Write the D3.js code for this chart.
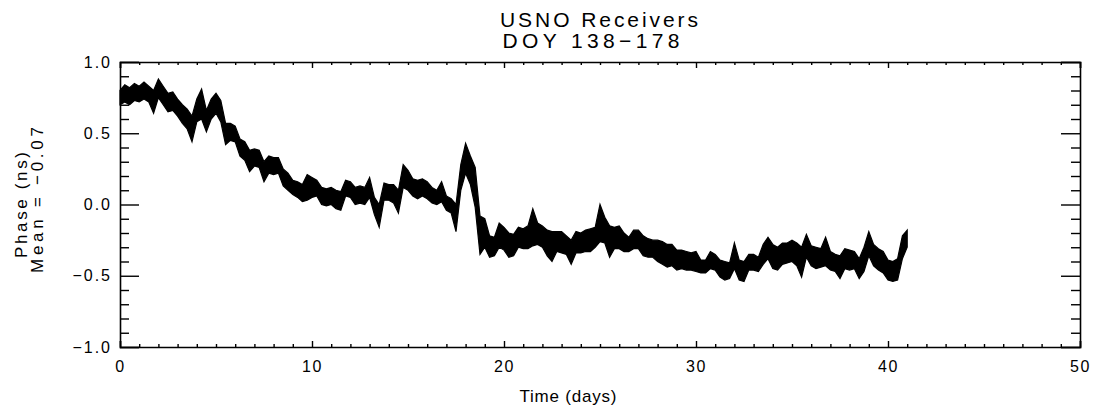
<!DOCTYPE html>
<html>
<head>
<meta charset="utf-8">
<script src="https://cdn.jsdelivr.net/npm/d3@7"></script>
<style>
  html, body { margin: 0; padding: 0; background: #fff; }
  svg { display: block; }
  text { font-family: "Liberation Sans", Arial, sans-serif; fill: #000; }
</style>
</head>
<body>
<svg id="chart" width="1097" height="406"></svg>
<script>
// Phase record, sampled every 0.25 day: upper and lower edge of the noisy trace (ns)
const sampleStart = 0;
const sampleStep = 0.25;
const phaseHigh = [
  0.80, 0.84, 0.82, 0.85, 0.83, 0.86, 0.83, 0.80, 0.88, 0.83, 0.78, 0.79, 0.74, 0.70, 0.67, 0.62,
  0.74, 0.81, 0.66, 0.74, 0.78, 0.73, 0.57, 0.57, 0.55, 0.46, 0.44, 0.38, 0.39, 0.38, 0.30, 0.34,
  0.33, 0.33, 0.25, 0.22, 0.17, 0.16, 0.14, 0.21, 0.19, 0.17, 0.12, 0.11, 0.12, 0.10, 0.09, 0.17,
  0.16, 0.12, 0.13, 0.12, 0.19, 0.05, 0.00, 0.15, 0.14, 0.14, 0.10, 0.28, 0.24, 0.18, 0.17, 0.18,
  0.16, 0.12, 0.10, 0.16, 0.06, 0.04, 0.00, 0.28, 0.43, 0.34, 0.26, -0.08, -0.10, -0.22, -0.23, -0.13,
  -0.16, -0.20, -0.21, -0.16, -0.17, -0.15, -0.03, -0.13, -0.15, -0.18, -0.19, -0.19, -0.19, -0.22, -0.25, -0.19,
  -0.20, -0.18, -0.17, -0.16, 0.00, -0.09, -0.15, -0.16, -0.15, -0.20, -0.23, -0.18, -0.18, -0.22, -0.24, -0.25,
  -0.25, -0.26, -0.28, -0.28, -0.32, -0.32, -0.33, -0.34, -0.33, -0.39, -0.39, -0.33, -0.35, -0.39, -0.40, -0.41,
  -0.27, -0.39, -0.40, -0.35, -0.35, -0.37, -0.28, -0.23, -0.28, -0.30, -0.27, -0.27, -0.25, -0.27, -0.30, -0.21,
  -0.29, -0.30, -0.31, -0.23, -0.33, -0.35, -0.36, -0.31, -0.32, -0.33, -0.38, -0.30, -0.19, -0.28, -0.31, -0.33,
  -0.39, -0.40, -0.38, -0.22, -0.18
];
const phaseLow = [
  0.70, 0.72, 0.70, 0.73, 0.72, 0.74, 0.72, 0.64, 0.75, 0.70, 0.65, 0.66, 0.62, 0.57, 0.53, 0.44,
  0.58, 0.60, 0.51, 0.60, 0.64, 0.58, 0.42, 0.45, 0.44, 0.34, 0.31, 0.23, 0.27, 0.26, 0.16, 0.22,
  0.21, 0.22, 0.13, 0.10, 0.07, 0.05, 0.02, 0.03, 0.05, 0.06, 0.00, -0.01, 0.00, -0.03, -0.04, 0.06,
  0.05, 0.00, 0.01, 0.00, 0.05, -0.07, -0.16, 0.03, 0.03, 0.01, -0.06, 0.12, 0.10, 0.06, 0.04, 0.06,
  0.04, 0.01, 0.00, 0.02, -0.04, -0.06, -0.19, 0.10, 0.22, 0.14, -0.02, -0.35, -0.30, -0.37, -0.36, -0.30,
  -0.32, -0.37, -0.36, -0.30, -0.31, -0.31, -0.29, -0.28, -0.30, -0.36, -0.40, -0.33, -0.34, -0.35, -0.42, -0.34,
  -0.34, -0.33, -0.33, -0.30, -0.26, -0.27, -0.37, -0.31, -0.31, -0.33, -0.33, -0.31, -0.31, -0.36, -0.37, -0.37,
  -0.40, -0.42, -0.44, -0.43, -0.46, -0.45, -0.46, -0.46, -0.47, -0.48, -0.48, -0.45, -0.46, -0.51, -0.53, -0.52,
  -0.45, -0.53, -0.54, -0.46, -0.46, -0.47, -0.42, -0.38, -0.45, -0.46, -0.42, -0.41, -0.40, -0.43, -0.51, -0.37,
  -0.43, -0.45, -0.44, -0.43, -0.46, -0.47, -0.52, -0.45, -0.46, -0.45, -0.52, -0.47, -0.36, -0.43, -0.46, -0.48,
  -0.53, -0.54, -0.53, -0.38, -0.30
];

// Axes
const xDomain = [0, 50];
const yDomain = [-1, 1];
const xMajorTicks = [0, 10, 20, 30, 40, 50];
const xMinorTicks = [1,2,3,4,5,6,7,8,9,11,12,13,14,15,16,17,18,19,21,22,23,24,25,26,27,28,29,
                     31,32,33,34,35,36,37,38,39,41,42,43,44,45,46,47,48,49];
const yMajorTicks = [-1.0, -0.5, 0.0, 0.5, 1.0];
const yMinorTicks = [-0.9,-0.8,-0.7,-0.6,-0.4,-0.3,-0.2,-0.1,0.1,0.2,0.3,0.4,0.6,0.7,0.8,0.9];
const titleLines = ["USNO Receivers", "DOY 138\u2212178"];
const xTitle = "Time (days)";
const yTitleLines = ["Phase (ns)", "Mean = \u22120.07"];

const svg = d3.select("#chart");
const plot = { left: 120, right: 1080, top: 62, bottom: 347 };

const x = d3.scaleLinear().domain(xDomain).range([plot.left, plot.right]);
const y = d3.scaleLinear().domain(yDomain).range([plot.bottom, plot.top]);

const series = phaseHigh.map((hi, i) => ({
  day: sampleStart + i * sampleStep, hi: hi, lo: phaseLow[i]
}));

// Trace band
const band = d3.area()
  .x(d => x(d.day))
  .y0(d => y(d.lo))
  .y1(d => y(d.hi));
svg.append("path")
  .datum(series)
  .attr("d", band)
  .attr("fill", "#000")
  .attr("stroke", "#000")
  .attr("stroke-width", 1.2)
  .attr("stroke-linejoin", "miter");

// Frame with inward ticks on all four sides
const fmt = d => d3.format(".1f")(d).replace("-", "\u2212");
const axisStyle = g => {
  g.select(".domain").attr("stroke", "#000").attr("stroke-width", 1.6);
  g.selectAll(".tick line").attr("stroke", "#000").attr("stroke-width", 1.4);
};

// bottom
svg.append("g").attr("transform", `translate(0,${plot.bottom})`)
  .call(d3.axisBottom(x).tickValues(xMajorTicks).tickSize(-6).tickPadding(14).tickFormat(d3.format("d")))
  .call(axisStyle)
  .call(g => g.selectAll("text").attr("font-size", 16).attr("letter-spacing", 1.5).attr("font-family", "Liberation Sans"));
svg.append("g").attr("transform", `translate(0,${plot.bottom})`)
  .call(d3.axisBottom(x).tickValues(xMinorTicks).tickSize(-3).tickFormat(""))
  .call(axisStyle).call(g => g.select(".domain").remove());

// top
svg.append("g").attr("transform", `translate(0,${plot.top})`)
  .call(d3.axisTop(x).tickValues(xMajorTicks).tickSize(-6).tickFormat(""))
  .call(axisStyle);
svg.append("g").attr("transform", `translate(0,${plot.top})`)
  .call(d3.axisTop(x).tickValues(xMinorTicks).tickSize(-3).tickFormat(""))
  .call(axisStyle).call(g => g.select(".domain").remove());

// left
svg.append("g").attr("transform", `translate(${plot.left},0)`)
  .call(d3.axisLeft(y).tickValues(yMajorTicks).tickSize(-19).tickPadding(8).tickFormat(fmt))
  .call(axisStyle)
  .call(g => g.selectAll("text").attr("font-size", 16).attr("letter-spacing", 2).attr("font-family", "Liberation Sans"));
svg.append("g").attr("transform", `translate(${plot.left},0)`)
  .call(d3.axisLeft(y).tickValues(yMinorTicks).tickSize(-9).tickFormat(""))
  .call(axisStyle).call(g => g.select(".domain").remove());

// right
svg.append("g").attr("transform", `translate(${plot.right},0)`)
  .call(d3.axisRight(y).tickValues(yMajorTicks).tickSize(-19).tickFormat(""))
  .call(axisStyle);
svg.append("g").attr("transform", `translate(${plot.right},0)`)
  .call(d3.axisRight(y).tickValues(yMinorTicks).tickSize(-9).tickFormat(""))
  .call(axisStyle).call(g => g.select(".domain").remove());

// Title
svg.append("text").attr("x", 599).attr("y", 27).attr("text-anchor", "middle")
  .attr("font-size", 21).attr("textLength", 198).attr("lengthAdjust", "spacing")
  .text(titleLines[0]);
svg.append("text").attr("x", 591).attr("y", 48).attr("text-anchor", "middle")
  .attr("font-size", 21).attr("textLength", 177).attr("lengthAdjust", "spacing")
  .text(titleLines[1]);

// X axis title
svg.append("text").attr("x", 568).attr("y", 402).attr("text-anchor", "middle")
  .attr("font-size", 17).attr("textLength", 97).attr("lengthAdjust", "spacing")
  .text(xTitle);

// Y axis title (two lines)
svg.append("text").attr("transform", "translate(27,205) rotate(-90)")
  .attr("text-anchor", "middle").attr("font-size", 17)
  .attr("textLength", 106).attr("lengthAdjust", "spacing")
  .text(yTitleLines[0]);
svg.append("text").attr("transform", "translate(43,200) rotate(-90)")
  .attr("text-anchor", "middle").attr("font-size", 17)
  .attr("textLength", 146).attr("lengthAdjust", "spacing")
  .text(yTitleLines[1]);
</script>
</body>
</html>
